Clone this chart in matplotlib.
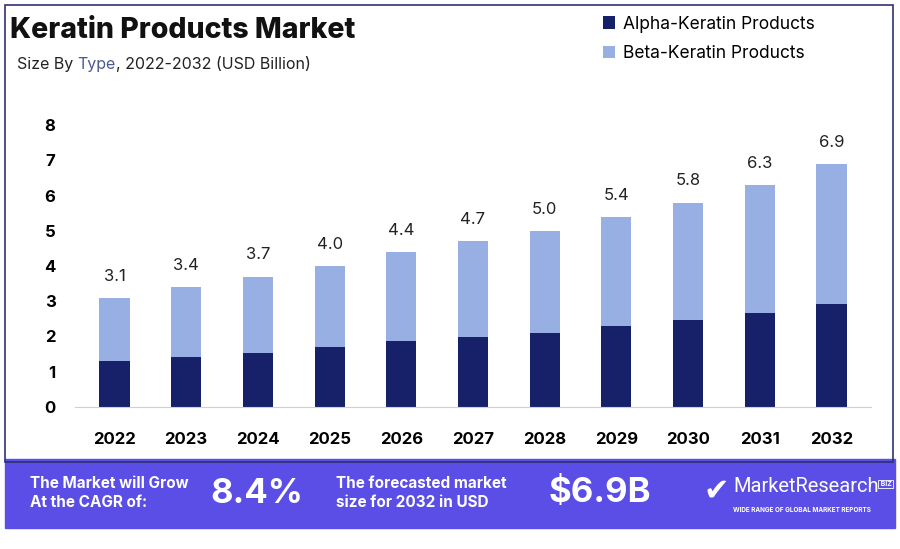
import matplotlib.pyplot as plt
from matplotlib.patches import Rectangle
import numpy as np

years = ["2022", "2023", "2024", "2025", "2026", "2027", "2028", "2029", "2030", "2031", "2032"]
totals = [3.1, 3.4, 3.7, 4.0, 4.4, 4.7, 5.0, 5.4, 5.8, 6.3, 6.9]
alpha = [1.30, 1.42, 1.53, 1.70, 1.87, 2.00, 2.10, 2.30, 2.47, 2.67, 2.92]
beta = [round(t - a, 2) for t, a in zip(totals, alpha)]

dark = "#16216a"
light = "#97afe3"
purple = "#5b4ee6"
font = ["Inter", "DejaVu Sans"]
plt.rcParams['font.family'] = font

fig = plt.figure(figsize=(9, 5.49), dpi=100)
renderer = fig.canvas.get_renderer()

def put_after(prev, s, **kw):
    # place a text just to the right of a previous one
    bb = prev.get_window_extent(renderer=renderer)
    x0 = bb.x1 / fig.bbox.width
    return fig.text(x0, prev.get_position()[1], s, **kw)

# outer frame
fig.patches.append(Rectangle((5 / 900, 1 - 462 / 549), 888 / 900, 457 / 549,
                             transform=fig.transFigure, fill=False,
                             edgecolor="#2d3270", linewidth=1.2))

ax = fig.add_axes([75 / 900, (549 - 407) / 549, 796 / 900, 282 / 549])
x = np.arange(len(years))
ax.bar(x, alpha, width=0.42, color=dark, label="Alpha-Keratin Products")
ax.bar(x, beta, width=0.42, bottom=alpha, color=light, label="Beta-Keratin Products")
for xi, t in zip(x, totals):
    ax.text(xi, t + 0.4, f"{t:.1f}", ha="center", va="bottom", fontsize=12, color="#222222")

ax.set_ylim(0, 8)
ax.set_xlim(-0.55, len(years) - 0.45)
ax.set_yticks(range(0, 9))
ax.set_xticks(x)
ax.set_xticklabels(years, fontsize=12, fontweight="bold")
for lbl in ax.get_yticklabels():
    lbl.set_fontsize(12)
    lbl.set_fontweight("bold")
ax.tick_params(axis="both", length=0)
ax.tick_params(axis="y", pad=14)
ax.tick_params(axis="x", pad=18)
for s in ["top", "right", "left"]:
    ax.spines[s].set_visible(False)
ax.spines["bottom"].set_color("#d0d0d0")

fig.text(10 / 900, 1 - 31 / 549, "Keratin Products Market", fontsize=20.5, fontweight="heavy",
         va="center", ha="left", color="#111111")
t1 = fig.text(17 / 900, 1 - 64 / 549, "Size By ", fontsize=11.5, va="center", ha="left",
              color="#222222")
t2 = put_after(t1, "Type", fontsize=11.5, va="center", ha="left", color="#4a5a8a")
put_after(t2, ", 2022-2032 (USD Billion)", fontsize=11.5, va="center", ha="left",
          color="#222222")

fig.legend(loc="upper left", bbox_to_anchor=(587 / 900, 1.0), frameon=False,
           fontsize=12.5, handlelength=0.7, handleheight=0.7, handletextpad=0.5,
           labelspacing=0.7)

# bottom banner
fig.patches.append(Rectangle((5 / 900, 1 - 528 / 549), 890 / 900, 69 / 549,
                             transform=fig.transFigure, color=purple, zorder=0))
fig.text(30 / 900, 1 - 493 / 549, "The Market will Grow\nAt the CAGR of:", fontsize=11,
         fontweight="bold", color="white", va="center", ha="left", linespacing=1.3)
fig.text(210 / 900, 1 - 494 / 549, "8.4%", fontsize=25, fontweight="bold", color="white",
         va="center", ha="left")
fig.text(336 / 900, 1 - 493 / 549, "The forecasted market\nsize for 2032 in USD", fontsize=11,
         fontweight="bold", color="white", va="center", ha="left", linespacing=1.3)
fig.text(548 / 900, 1 - 493 / 549, "$6.9B", fontsize=25, fontweight="bold", color="white",
         va="center", ha="left")
fig.text(703 / 900, 1 - 491 / 549, "\u2714", fontsize=22, color="white", va="center",
         ha="left", family=["DejaVu Sans"])
logo = fig.text(733 / 900, 1 - 487 / 549, "MarketResearch", fontsize=14.5, color="white",
                va="center", ha="left", family=["Roboto", "DejaVu Sans"])
put_after(logo, " BIZ", fontsize=5, fontweight="bold", color="white", va="bottom", ha="left",
          bbox=dict(boxstyle="square,pad=0.15", facecolor="none", edgecolor="white", lw=0.6))
fig.text(733 / 900, 1 - 510 / 549, "WIDE RANGE OF GLOBAL MARKET REPORTS", fontsize=4.6,
         fontweight="bold", color="white", va="center", ha="left")

fig.savefig("out.png", dpi=100)
